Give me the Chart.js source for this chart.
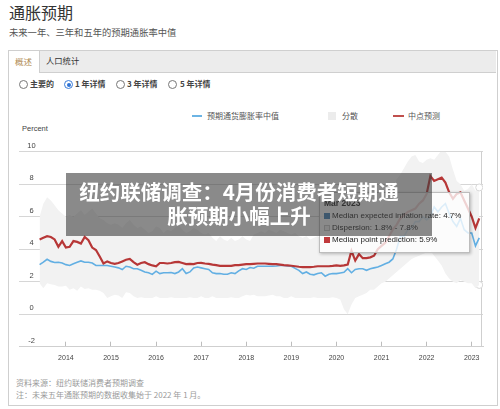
<!DOCTYPE html>
<html>
<head>
<meta charset="utf-8">
<script src="https://cdn.jsdelivr.net/npm/chart.js@4.4.1/dist/chart.umd.min.js"></script>
<style>
body { margin: 0; width: 500px; height: 409px; position: relative; overflow: hidden; background: #fff;
       font-family: "Liberation Sans", "Noto Sans CJK SC", sans-serif; }
.t { position: absolute; white-space: nowrap; line-height: 1.2; }
.cjk { font-family: "Noto Sans CJK SC", sans-serif; }
#panel { position: absolute; left: 8px; top: 50px; width: 488px; height: 354px; border: 1px solid #cfcfcf; }
#tabbar { position: absolute; left: 9px; top: 51px; width: 487px; height: 21px; background: #ececec; border-bottom: 1px solid #cfcfcf; }
#tab1 { position: absolute; left: 9px; top: 51px; width: 30px; height: 22px; background: #fff; border-right: 1px solid #cfcfcf; }
.radio { position: absolute; width: 7px; height: 7px; border: 1px solid #777; border-radius: 50%; background: #fff; }
.radio.on { border-color: #3b7dd8; }
.radio.on::after { content: ""; position: absolute; left: 1.5px; top: 1.5px; width: 4px; height: 4px; border-radius: 50%; background: #2f74d6; }
canvas { position: absolute; left: 0; top: 120px; }
#banner { position: absolute; left: 66px; top: 173px; width: 366px; height: 63px; background: rgba(60,60,60,0.6); z-index: 5; }
#banner div { position: absolute; left: 0; width: 346px; text-align: center; color: #fff; font-weight: bold;
              font-size: 20.5px; line-height: 24px; font-family: "Noto Sans CJK SC", sans-serif; }
#tip { position: absolute; left: 319px; top: 192px; width: 149px; height: 59px; border: 1px solid #bdbdbd;
       background: rgba(255,255,255,0.78); box-shadow: 1px 1px 3px rgba(0,0,0,0.25); z-index: 3; }
.sq { position: absolute; width: 6px; height: 6px; }
</style>
</head>
<body>
<div class="t cjk" style="left:9px;top:3px;font-size:16px;color:#333;">通胀预期</div>
<div class="t cjk" style="left:9px;top:27px;font-size:9.3px;color:#555;">未来一年、三年和五年的预期通胀率中值</div>

<div id="panel"></div>
<div id="tabbar"></div>
<div id="tab1"></div>
<div class="t cjk" style="left:15px;top:56px;font-size:8.5px;color:#b08a52;">概述</div>
<div class="t cjk" style="left:46px;top:56px;font-size:8.3px;color:#333;">人口统计</div>

<div class="radio" style="left:19px;top:80px;"></div>
<div class="t cjk" style="left:30px;top:78.5px;font-size:8px;color:#444;font-weight:bold;">主要的</div>
<div class="radio on" style="left:64px;top:80px;"></div>
<div class="t cjk" style="left:75px;top:78.5px;font-size:8px;color:#444;font-weight:bold;">1 年详情</div>
<div class="radio" style="left:116px;top:80px;"></div>
<div class="t cjk" style="left:127px;top:78.5px;font-size:8px;color:#444;font-weight:bold;">3 年详情</div>
<div class="radio" style="left:168px;top:80px;"></div>
<div class="t cjk" style="left:180px;top:78.5px;font-size:8px;color:#444;font-weight:bold;">5 年详情</div>

<div style="position:absolute;left:192px;top:115px;width:10px;height:2px;background:#6cb4e4;"></div>
<div class="t cjk" style="left:207px;top:110.5px;font-size:8px;color:#555;">预期通货膨胀率中值</div>
<div style="position:absolute;left:328px;top:112px;width:8px;height:8px;background:#ececec;"></div>
<div class="t cjk" style="left:342px;top:110.5px;font-size:8px;color:#555;">分散</div>
<div style="position:absolute;left:393px;top:115px;width:11px;height:2px;background:#c0504d;"></div>
<div class="t cjk" style="left:408px;top:110.5px;font-size:8px;color:#555;">中点预测</div>

<div class="t" style="left:22px;top:124px;font-size:7.5px;color:#444;">Percent</div>

<canvas id="chart" width="500" height="250"></canvas>

<div id="tip">
  <div class="t" style="left:4px;top:5px;font-size:8.5px;font-weight:bold;color:#222;">Mar 2023</div>
  <div class="sq" style="left:4px;top:20px;background:#3f7fb6;"></div>
  <div class="t" style="left:12px;top:17.5px;font-size:8px;color:#222;">Median expected inflation rate: 4.7%</div>
  <div class="sq" style="left:4px;top:32px;border:1px solid #c8c8c8;width:4px;height:4px;background:#f2f2f2;"></div>
  <div class="t" style="left:12px;top:29.5px;font-size:8px;color:#222;">Dispersion: 1.8% - 7.8%</div>
  <div class="sq" style="left:4px;top:44px;background:#c0393b;"></div>
  <div class="t" style="left:12px;top:41.5px;font-size:8px;color:#222;">Median point prediction: 5.9%</div>
</div>

<div id="banner">
  <div style="top:5.5px;">纽约联储调查：4月份消费者短期通</div>
  <div style="top:29.5px;">胀预期小幅上升</div>
</div>

<div class="t cjk" style="left:16px;top:378px;font-size:8px;color:#9a9a9a;">资料来源：纽约联储消费者预期调查</div>
<div class="t cjk" style="left:16px;top:390px;font-size:8px;color:#9a9a9a;">注：未来五年通胀预期的数据收集始于 2022 年 1 月。</div>

<script>
// Monthly series, Jun 2013 .. Mar 2023
const startYear = 2013;
const startMonth = 6;
const yearTicks = [2014, 2015, 2016, 2017, 2018, 2019, 2020, 2021, 2022, 2023];
const yTicks = [-2, 0, 2, 4, 6, 8, 10];

// 预期通货膨胀率中值
const medianExpected = [
  3.05, 3.2, 3.38, 3.25, 3.18, 3.2, 3.15, 3.05, 3.0, 3.1,
  3.2, 3.28, 3.2, 3.2, 3.15, 3.0, 3.0, 3.0, 3.0, 2.95,
  2.9, 2.85, 2.75, 2.95, 2.9, 2.8, 2.8, 2.7, 2.6, 2.55,
  2.45, 2.65, 2.5, 2.55, 2.55, 2.56, 2.5, 2.6, 2.8, 2.5,
  2.6, 2.85, 2.9, 2.85, 2.8, 2.75, 2.55, 2.5, 2.5, 2.46,
  2.46, 2.55, 2.5, 2.67, 2.8, 2.75, 2.87, 2.83, 2.95, 2.95,
  2.95, 2.95, 2.95, 2.97, 3.0, 3.0, 2.97, 2.95, 2.82, 2.7,
  2.5, 2.6, 2.46, 2.42, 2.5, 2.55, 2.34, 2.46, 2.5, 2.5,
  2.54, 2.58, 2.8, 2.55, 2.75, 2.8, 2.8, 2.7, 2.8, 2.85,
  2.9, 3.0, 3.1, 3.2, 3.4, 4.0, 4.8, 4.8, 5.2, 5.3,
  5.7, 5.7, 6.0, 5.8, 6.0, 6.6, 6.3, 6.6, 6.8, 6.2,
  5.7, 5.4, 5.9, 5.2, 5.0, 5.0, 4.2, 4.7
];

// 中点预测
const pointPrediction = [
  4.6, 4.7, 4.8, 4.75, 4.6, 4.15, 4.5, 4.1, 4.15, 4.5,
  4.45, 4.35, 4.75, 4.55, 4.1, 3.95, 3.55, 3.12, 3.25, 3.15,
  3.1, 3.15, 3.25, 3.35, 3.4, 3.2, 3.05, 3.15, 3.2, 3.08,
  3.0, 2.95, 3.15, 3.15, 3.12, 3.15, 3.2, 3.22, 3.15, 3.08,
  3.1, 3.08, 3.15, 3.16, 3.12, 3.1, 3.05, 3.02, 2.97, 2.97,
  2.97, 2.97, 3.02, 3.02, 3.05, 3.08, 3.08, 3.1, 3.12, 3.12,
  3.12, 3.1, 3.08, 3.08, 3.05, 3.02, 3.0, 2.98, 2.95, 2.92,
  2.9, 2.9, 2.9, 2.92, 2.95, 2.95, 2.95, 2.95, 2.97, 3.0,
  2.97, 3.0, 3.05, 3.9, 3.3, 3.7, 3.45, 3.45, 3.5, 3.6,
  4.0, 4.2, 4.4, 4.8, 5.2, 5.5, 5.9, 6.1, 6.3, 6.4,
  6.5, 6.8, 7.0, 7.4, 8.5, 8.2, 8.3, 8.4, 8.1, 7.5,
  7.1, 7.4, 7.5, 7.0, 6.5, 6.0, 5.3, 5.9
];

// 分散 (upper / lower bound)
const dispersionHigh = [
  6.0, 6.8, 7.2, 7.0, 6.7, 6.4, 6.2, 6.0, 6.1, 6.0,
  6.2, 6.4, 6.1, 6.3, 6.5, 6.2, 5.9, 5.8, 5.6, 5.5,
  5.6, 5.5, 5.3, 5.6, 5.8, 5.5, 5.3, 5.4, 5.2, 5.0,
  5.1, 5.4, 5.3, 5.0, 5.2, 5.1, 5.3, 5.5, 5.2, 5.0,
  5.1, 5.3, 5.2, 5.0, 4.9, 5.0, 4.7, 4.5, 4.8, 4.6,
  4.5, 4.7, 4.5, 4.6, 4.8, 4.6, 4.5, 4.9, 5.0, 5.1,
  5.0, 5.2, 5.1, 5.0, 5.2, 5.1, 5.0, 4.9, 5.0, 4.8,
  4.7, 4.8, 4.6, 4.7, 4.8, 4.6, 4.7, 4.9, 4.8, 4.9,
  5.0, 5.2, 6.8, 7.0, 6.2, 6.0, 6.3, 5.8, 5.9, 6.1,
  6.4, 6.6, 7.0, 7.4, 7.8, 8.3, 8.6, 9.0, 9.4, 9.7,
  9.8, 9.4, 9.3, 9.5, 9.6, 9.5, 9.8, 10.1, 10.0, 9.7,
  8.9, 8.2, 8.0, 7.6, 7.7, 8.0, 7.6, 7.8
];
const dispersionLow = [
  1.9, 1.6, 1.9, 1.85, 1.8, 1.7, 1.7, 1.75, 1.5, 1.6,
  1.45, 1.7, 1.55, 1.6, 1.5, 1.5, 1.45, 1.3, 1.0, 1.1,
  1.2, 1.15, 1.0, 1.35, 1.3, 1.1, 1.0, 1.05, 1.0, 1.0,
  1.0, 1.1, 1.0, 1.0, 1.0, 1.05, 1.0, 1.0, 1.0, 1.0,
  1.05, 1.0, 1.0, 1.1, 1.0, 1.0, 1.1, 1.0, 1.0, 1.0,
  1.0, 1.05, 1.0, 1.0, 1.1, 1.2, 1.15, 1.2, 1.1, 1.1,
  1.1, 1.15, 1.2, 1.1, 1.1, 1.0, 1.0, 1.1, 1.0, 1.0,
  1.0, 1.0, 1.0, 1.05, 1.0, 1.0, 1.0, 1.0, 1.05, 1.0,
  0.9, 0.3, 0.0, 0.6, 1.0, 1.1, 1.2, 1.3, 1.5, 1.5,
  1.7, 1.9, 2.0, 2.2, 2.4, 2.6, 2.8, 3.0, 3.2, 3.4,
  3.5, 3.6, 3.7, 3.8, 3.9, 3.6, 3.3, 3.0, 2.5, 2.2,
  2.0, 1.9, 2.1, 2.0, 1.9, 1.9, 1.6, 1.8
];

// x position of each month as a decimal year
const xs = medianExpected.map((_, i) => startYear + (startMonth - 1 + i) / 12);
const pts = arr => arr.map((v, i) => ({ x: xs[i], y: v }));
const last = xs.length - 1;
const hoverRadius = ctx => ctx.dataIndex === last ? 3.5 : 0;

// y labels centered above gridlines, plus the hover line at the right
const extras = {
    id: "extras",
    beforeDatasetsDraw(chart) {
        const { ctx, chartArea } = chart;
        ctx.save();
        ctx.strokeStyle = "#cfcfcf";
        ctx.lineWidth = 1;
        ctx.beginPath();
        ctx.moveTo(chartArea.right - 1.5, chartArea.top);
        ctx.lineTo(chartArea.right - 1.5, chartArea.bottom);
        ctx.stroke();
        ctx.restore();
    },
    afterDraw(chart) {
        const { ctx, chartArea, scales: { y } } = chart;
        ctx.save();
        ctx.font = '7.5px "Liberation Sans"';
        ctx.fillStyle = "#444";
        ctx.textAlign = "center";
        ctx.textBaseline = "middle";
        yTicks.forEach(v => ctx.fillText(String(v), chartArea.left + 12.5, y.getPixelForValue(v) - 6));
        ctx.restore();
    }
};

new Chart(document.getElementById("chart"), {
    type: "line",
    data: {
        datasets: [
            { label: "中点预测", data: pts(pointPrediction), borderColor: "#b73737", borderWidth: 2.2, pointRadius: 0, fill: false },
            { label: "预期通货膨胀率中值", data: pts(medianExpected), borderColor: "#62afe3", borderWidth: 1.6, pointRadius: 0, fill: false },
            { label: "分散", data: pts(dispersionHigh), borderColor: "rgba(0,0,0,0)", borderWidth: 0, backgroundColor: "#f2f2f2", fill: "+1",
              pointRadius: hoverRadius, pointBackgroundColor: "#fff", pointBorderColor: "#d8d8d8", pointBorderWidth: 1 },
            { label: "分散低", data: pts(dispersionLow), borderColor: "rgba(0,0,0,0)", borderWidth: 0, fill: false,
              pointRadius: hoverRadius, pointBackgroundColor: "#fff", pointBorderColor: "#d8d8d8", pointBorderWidth: 1 }
        ]
    },
    options: {
        responsive: false,
        animation: false,
        events: [],
        layout: { padding: { left: 19, right: 17, top: 31.7, bottom: 3.3 } },
        plugins: { legend: { display: false }, tooltip: { enabled: false } },
        scales: {
            x: {
                type: "linear",
                min: 2012.96,
                max: 2023.25,
                afterBuildTicks: s => { s.ticks = yearTicks.map(v => ({ value: v })); },
                afterFit: s => { s.height = 20; },
                ticks: { callback: v => String(v), color: "#444", font: { family: "Liberation Sans", size: 7 },
                         padding: 12.5, maxRotation: 0, autoSkip: false },
                grid: { drawOnChartArea: false, tickLength: -5, tickColor: "#bdbdbd" },
                border: { color: "#cfcfcf" }
            },
            y: {
                min: -2,
                max: 10,
                afterFit: s => { s.width = 0; },
                ticks: { stepSize: 2, display: false },
                grid: { color: "#d6d6d6", drawTicks: false },
                border: { display: false }
            }
        }
    },
    plugins: [extras]
});
</script>
</body>
</html>
